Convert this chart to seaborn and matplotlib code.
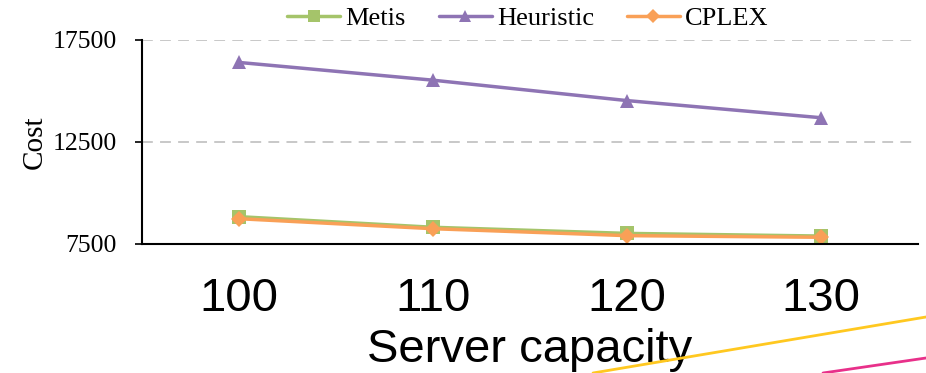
import matplotlib
matplotlib.use("Agg")
import matplotlib.pyplot as plt
from matplotlib.lines import Line2D
from matplotlib.ticker import FixedLocator
import seaborn as sns
import pandas as pd

capacity = [100, 110, 120, 130]
metis = [8840, 8320, 8020, 7890]
heuristic = [16400, 15530, 14530, 13690]
cplex = [8740, 8250, 7910, 7830]
series_names = ["Metis", "Heuristic", "CPLEX"]
y_ticks = [7500, 12500, 17500]

colors = {"Metis": "#A5C46A", "Heuristic": "#8E74B4", "CPLEX": "#F9A057"}
markers = {"Metis": "s", "Heuristic": "^", "CPLEX": "D"}
msizes = {"Metis": 10, "Heuristic": 10, "CPLEX": 8}

df = pd.DataFrame({
    "capacity": capacity * 3,
    "cost": metis + heuristic + cplex,
    "method": [n for n in series_names for _ in capacity],
})

sns.set_style("white")
plt.rcParams["font.family"] = ["Liberation Serif", "DejaVu Serif"]
plt.rcParams["text.color"] = "black"
plt.rcParams["axes.labelcolor"] = "black"
plt.rcParams["xtick.color"] = "black"
plt.rcParams["ytick.color"] = "black"

fig = plt.figure(figsize=(9.26, 3.73), dpi=100)
ax = fig.add_axes([142 / 926, 1 - 244 / 373, (918 - 142) / 926, (244 - 40) / 373])

for name in series_names:
    sub = df[df["method"] == name]
    sns.lineplot(data=sub, x="capacity", y="cost", ax=ax, color=colors[name],
                 marker=markers[name], markersize=msizes[name], linewidth=2.5,
                 markeredgewidth=0, label=name, legend=False)

ax.set_xlim(95, 135)
ax.set_ylim(7500, 17500)
ax.set_xticks(capacity)
ax.set_xticklabels([str(c) for c in capacity], family="Liberation Sans", fontsize=34)
ax.xaxis.set_minor_locator(FixedLocator([105, 115, 125]))
ax.tick_params(axis="x", which="major", length=0, pad=24)
ax.tick_params(axis="x", which="minor", direction="in", length=8, width=1.2, color="black")
ax.set_yticks(y_ticks)
ax.set_yticklabels([str(v) for v in y_ticks], fontsize=18.5)
ax.tick_params(axis="y", which="major", direction="out", length=5, width=1.2,
               color="black", pad=13, left=True)

ax.yaxis.grid(True, linestyle=(0, (6, 4)), color="#C4C4C4", linewidth=1.3)
ax.xaxis.grid(False)
for side in ["top", "right"]:
    ax.spines[side].set_visible(False)
for side in ["left", "bottom"]:
    ax.spines[side].set_color("black")
    ax.spines[side].set_linewidth(1.5)

ax.set_xlabel("Server capacity", family="Liberation Sans", fontsize=34, labelpad=5)
ax.set_ylabel("Cost", fontsize=21, labelpad=3.5)

handles = [Line2D([], [], color=colors[n], marker=markers[n], markersize=msizes[n] - 1,
                  markeredgewidth=0, linewidth=2.5) for n in series_names]
fig.legend(handles, series_names, loc="center", bbox_to_anchor=(528 / 926, 1 - 18 / 373),
           ncol=3, frameon=False, fontsize=19, handlelength=2.0, columnspacing=1.25,
           handletextpad=0.2, borderaxespad=0)

# stray strokes at the lower right of the picture
fig.add_artist(Line2D([593 / 926, 1.0], [0.0, 1 - 317 / 373], color="#FFC820", linewidth=2))
fig.add_artist(Line2D([823 / 926, 1.0], [0.0, 1 - 358 / 373], color="#E8308A", linewidth=2))

fig.savefig("out.png", dpi=100)
